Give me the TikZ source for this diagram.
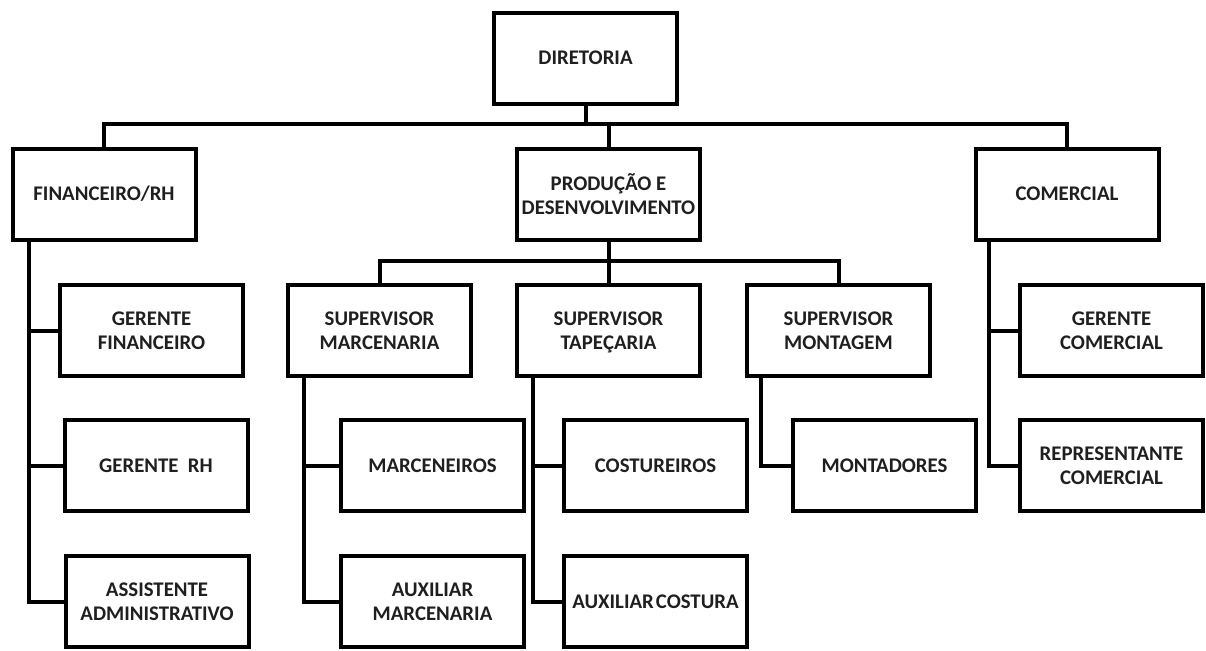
\documentclass[tikz,border=0pt]{standalone}
\usepackage{fontspec}
\setmainfont{Carlito}
\begin{document}
\begin{tikzpicture}[x=0.75pt,y=-0.75pt,
  unit/.style={draw=black, line width=3pt, fill=white, rectangle,
    minimum width=137.25pt, minimum height=68.25pt, inner sep=0pt,
    align=center, text=black!88,
    font=\bfseries\fontsize{15.6}{17.8}\selectfont},
  link/.style={draw=black, line width=3pt}]
\useasboundingbox (0,0) rectangle (1206,650);

% top level
\node[unit] (dir)  at (585.5,58)  {DIRETORIA};

% departments
\node[unit] (fin)  at (104,194)   {FINANCEIRO/RH};
\node[unit] (prod) at (608.5,194) {PRODUÇÃO E\\DESENVOLVIMENTO};
\node[unit] (com)  at (1067,194)  {COMERCIAL};

% financeiro / rh staff
\node[unit] (gfin) at (151.5,330.5) {GERENTE\\FINANCEIRO};
\node[unit] (grh)  at (156,465.5)   {GERENTE\hspace{0.45em}RH};
\node[unit] (asst) at (157,601.5)   {ASSISTENTE\\ADMINISTRATIVO};

% production supervisors
\node[unit] (smar) at (379.5,330.5) {SUPERVISOR\\MARCENARIA};
\node[unit] (stap) at (608.5,330.5) {SUPERVISOR\\TAPE\smash{Ç}ARIA};
\node[unit] (smon) at (838.5,330.5) {SUPERVISOR\\MONTAGEM};

% production teams
\node[unit] (marc) at (432.5,465.5) {MARCENEIROS};
\node[unit] (auxm) at (432.5,601.5) {AUXILIAR\\MARCENARIA};
\node[unit] (cost) at (655.5,465.5) {COSTUREIROS};
\node[unit] (auxc) at (655.5,601.5) {\spaceskip=0.1em AUXILIAR COSTURA};
\node[unit] (mont) at (884.5,465.5) {MONTADORES};

% commercial staff
\node[unit] (gcom) at (1111.5,330.5) {GERENTE\\COMERCIAL};
\node[unit] (rep)  at (1111.5,465.5) {REPRESENTANTE\\COMERCIAL};

% main bus under the board
\draw[link] (fin.north) -- ++(0,-22.5) coordinate (bus) -| (com.north);
\draw[link] (dir.south) -- (dir.south |- bus);
\draw[link] (prod.north) -- (prod.north |- bus);

% production bus
\draw[link] (smar.north) -- ++(0,-22) -| (smon.north);
\draw[link] (prod.south) -- (stap.north);

% side trunks
\draw[link] (fin.south west) ++(18.5,0) |- (gfin.west);
\draw[link] (fin.south west) ++(18.5,0) |- (grh.west);
\draw[link] (fin.south west) ++(18.5,0) |- (asst.west);

\draw[link] (smar.south west) ++(18,0) |- (marc.west);
\draw[link] (smar.south west) ++(18,0) |- (auxm.west);

\draw[link] (stap.south west) ++(18,0) |- (cost.west);
\draw[link] (stap.south west) ++(18,0) |- (auxc.west);

\draw[link] (smon.south west) ++(16,0) |- (mont.west);

\draw[link] (com.south west) ++(15.5,0) |- (gcom.west);
\draw[link] (com.south west) ++(15.5,0) |- (rep.west);
\end{tikzpicture}
\end{document}
